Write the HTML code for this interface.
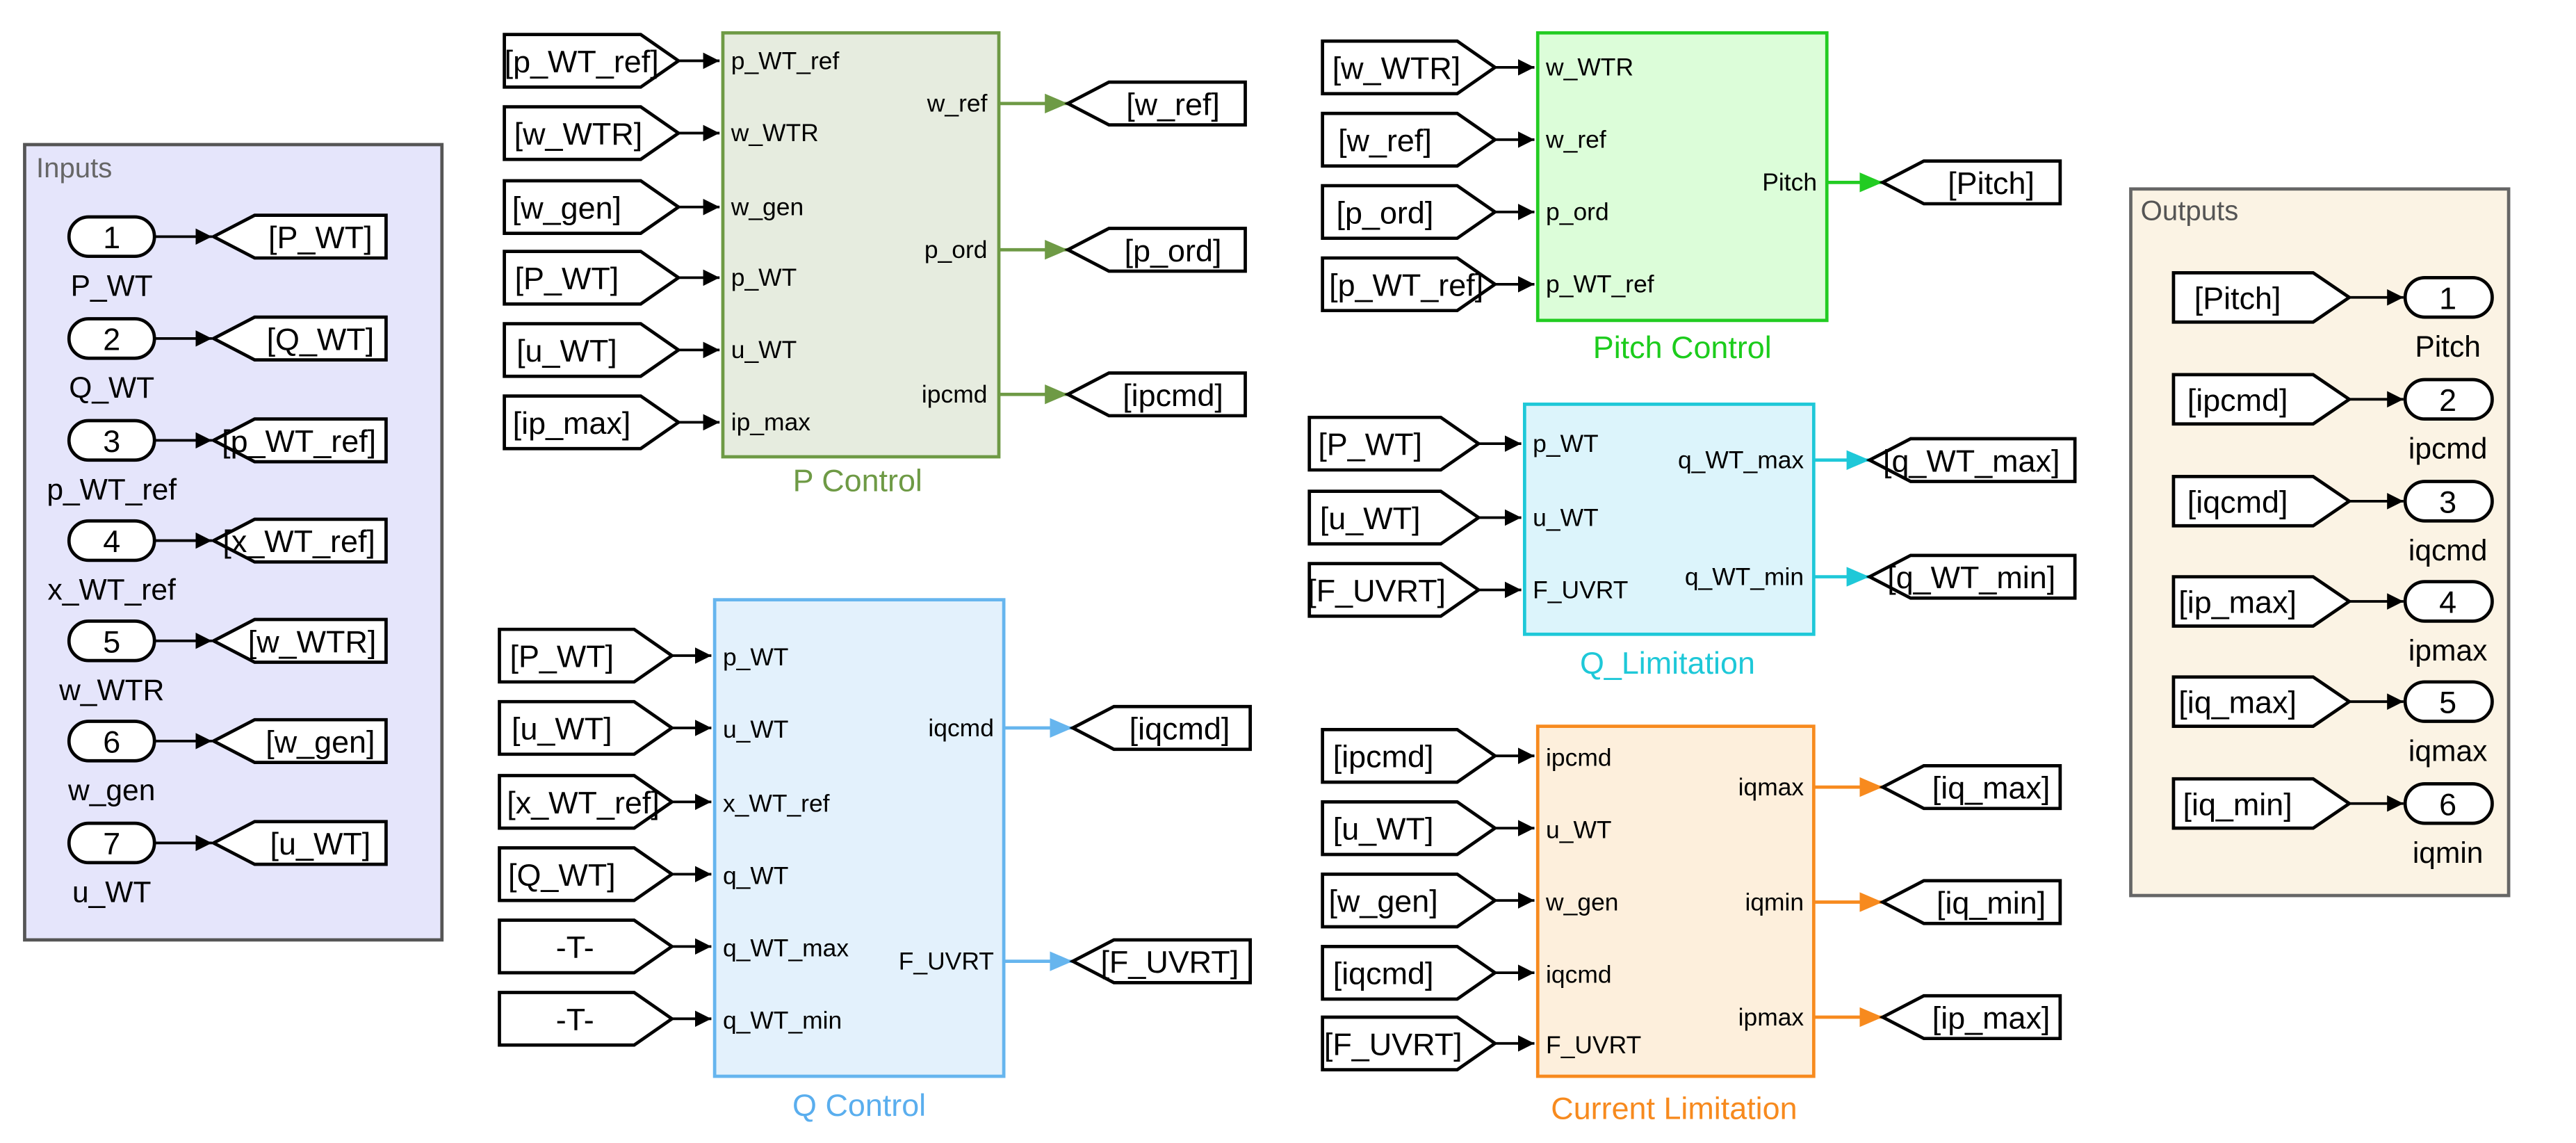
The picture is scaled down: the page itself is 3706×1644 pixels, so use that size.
<!DOCTYPE html>
<html><head><meta charset="utf-8"><style>
html,body{margin:0;padding:0;background:#fff}
svg{display:block}
text{font-family:"Liberation Sans",sans-serif}
.t{font-size:19px;fill:#000}
.p{font-size:15px;fill:#000}
.l{font-size:18px;fill:#000}
.tag{fill:#fff;stroke:#000;stroke-width:2}
.w{stroke:#000;stroke-width:1.6;fill:none}
</style></head><body>
<svg width="3706" height="1644" viewBox="0 0 1568 695.6" preserveAspectRatio="none" xmlns="http://www.w3.org/2000/svg">
<defs>
<marker id="ab" markerWidth="10" markerHeight="10" refX="10" refY="5" orient="auto" markerUnits="userSpaceOnUse"><path d="M0,0L10,5L0,10z" fill="#000"/></marker>
<marker id="ag" markerWidth="14" markerHeight="12" refX="14" refY="6" orient="auto" markerUnits="userSpaceOnUse"><path d="M0,0L14,6L0,12z" fill="#6e9a45"/></marker>
<marker id="al" markerWidth="14" markerHeight="12" refX="14" refY="6" orient="auto" markerUnits="userSpaceOnUse"><path d="M0,0L14,6L0,12z" fill="#22cc22"/></marker>
<marker id="ac" markerWidth="14" markerHeight="12" refX="14" refY="6" orient="auto" markerUnits="userSpaceOnUse"><path d="M0,0L14,6L0,12z" fill="#1ec8d8"/></marker>
<marker id="aq" markerWidth="14" markerHeight="12" refX="14" refY="6" orient="auto" markerUnits="userSpaceOnUse"><path d="M0,0L14,6L0,12z" fill="#66b5ee"/></marker>
<marker id="ao" markerWidth="14" markerHeight="12" refX="14" refY="6" orient="auto" markerUnits="userSpaceOnUse"><path d="M0,0L14,6L0,12z" fill="#f78a1e"/></marker>
</defs>

<!-- Inputs -->
<rect x="15" y="88" width="254" height="484" fill="#e5e5fb" stroke="#555" stroke-width="2"/>
<text x="22" y="108" style="font-size:17px;fill:#666">Inputs</text>
<g>
<rect x="42" y="132" width="52" height="24" rx="12" class="tag"/><text x="68" y="151" class="t" text-anchor="middle">1</text><line x1="94" y1="144" x2="129" y2="144" class="w" marker-end="url(#ab)"/><polygon points="130,144 155,131 235,131 235,157 155,157" class="tag"/><text x="195" y="151" class="t" text-anchor="middle">[P_WT]</text><text x="68" y="180" class="l" text-anchor="middle">P_WT</text>
<rect x="42" y="194" width="52" height="24" rx="12" class="tag"/><text x="68" y="213" class="t" text-anchor="middle">2</text><line x1="94" y1="206" x2="129" y2="206" class="w" marker-end="url(#ab)"/><polygon points="130,206 155,193 235,193 235,219 155,219" class="tag"/><text x="195" y="213" class="t" text-anchor="middle">[Q_WT]</text><text x="68" y="242" class="l" text-anchor="middle">Q_WT</text>
<rect x="42" y="256" width="52" height="24" rx="12" class="tag"/><text x="68" y="275" class="t" text-anchor="middle">3</text><line x1="94" y1="268" x2="129" y2="268" class="w" marker-end="url(#ab)"/><polygon points="130,268 155,255 235,255 235,281 155,281" class="tag"/><text x="182" y="275" class="t" text-anchor="middle">[p_WT_ref]</text><text x="68" y="304" class="l" text-anchor="middle">p_WT_ref</text>
<rect x="42" y="317" width="52" height="24" rx="12" class="tag"/><text x="68" y="336" class="t" text-anchor="middle">4</text><line x1="94" y1="329" x2="129" y2="329" class="w" marker-end="url(#ab)"/><polygon points="130,329 155,316 235,316 235,342 155,342" class="tag"/><text x="182" y="336" class="t" text-anchor="middle">[x_WT_ref]</text><text x="68" y="365" class="l" text-anchor="middle">x_WT_ref</text>
<rect x="42" y="378" width="52" height="24" rx="12" class="tag"/><text x="68" y="397" class="t" text-anchor="middle">5</text><line x1="94" y1="390" x2="129" y2="390" class="w" marker-end="url(#ab)"/><polygon points="130,390 155,377 235,377 235,403 155,403" class="tag"/><text x="190" y="397" class="t" text-anchor="middle">[w_WTR]</text><text x="68" y="426" class="l" text-anchor="middle">w_WTR</text>
<rect x="42" y="439" width="52" height="24" rx="12" class="tag"/><text x="68" y="458" class="t" text-anchor="middle">6</text><line x1="94" y1="451" x2="129" y2="451" class="w" marker-end="url(#ab)"/><polygon points="130,451 155,438 235,438 235,464 155,464" class="tag"/><text x="195" y="458" class="t" text-anchor="middle">[w_gen]</text><text x="68" y="487" class="l" text-anchor="middle">w_gen</text>
<rect x="42" y="501" width="52" height="24" rx="12" class="tag"/><text x="68" y="520" class="t" text-anchor="middle">7</text><line x1="94" y1="513" x2="129" y2="513" class="w" marker-end="url(#ab)"/><polygon points="130,513 155,500 235,500 235,526 155,526" class="tag"/><text x="195" y="520" class="t" text-anchor="middle">[u_WT]</text><text x="68" y="549" class="l" text-anchor="middle">u_WT</text>
</g>

<!-- P Control -->
<rect x="440" y="20" width="168" height="258" fill="#e6ecdf" stroke="#6e9a45" stroke-width="2"/>
<text x="522" y="299" text-anchor="middle" style="font-size:19px;fill:#6e9a45">P Control</text>
<g>
<polygon points="307,21 390,21 413,37 390,53 307,53" class="tag"/><text x="354" y="44" class="t" text-anchor="middle">[p_WT_ref]</text><line x1="413" y1="37" x2="438" y2="37" class="w" marker-end="url(#ab)"/><text x="445" y="42" class="p">p_WT_ref</text>
<polygon points="307,65 390,65 413,81 390,97 307,97" class="tag"/><text x="352" y="88" class="t" text-anchor="middle">[w_WTR]</text><line x1="413" y1="81" x2="438" y2="81" class="w" marker-end="url(#ab)"/><text x="445" y="86" class="p">w_WTR</text>
<polygon points="307,110 390,110 413,126 390,142 307,142" class="tag"/><text x="345" y="133" class="t" text-anchor="middle">[w_gen]</text><line x1="413" y1="126" x2="438" y2="126" class="w" marker-end="url(#ab)"/><text x="445" y="131" class="p">w_gen</text>
<polygon points="307,153 390,153 413,169 390,185 307,185" class="tag"/><text x="345" y="176" class="t" text-anchor="middle">[P_WT]</text><line x1="413" y1="169" x2="438" y2="169" class="w" marker-end="url(#ab)"/><text x="445" y="174" class="p">p_WT</text>
<polygon points="307,197 390,197 413,213 390,229 307,229" class="tag"/><text x="345" y="220" class="t" text-anchor="middle">[u_WT]</text><line x1="413" y1="213" x2="438" y2="213" class="w" marker-end="url(#ab)"/><text x="445" y="218" class="p">u_WT</text>
<polygon points="307,241 390,241 413,257 390,273 307,273" class="tag"/><text x="348" y="264" class="t" text-anchor="middle">[ip_max]</text><line x1="413" y1="257" x2="438" y2="257" class="w" marker-end="url(#ab)"/><text x="445" y="262" class="p">ip_max</text>
<text x="601" y="68" class="p" text-anchor="end">w_ref</text><line x1="608" y1="63" x2="650" y2="63" stroke="#6e9a45" stroke-width="2" marker-end="url(#ag)"/><polygon points="650,63 675,50 758,50 758,76 675,76" class="tag"/><text x="714" y="70" class="t" text-anchor="middle">[w_ref]</text>
<text x="601" y="157" class="p" text-anchor="end">p_ord</text><line x1="608" y1="152" x2="650" y2="152" stroke="#6e9a45" stroke-width="2" marker-end="url(#ag)"/><polygon points="650,152 675,139 758,139 758,165 675,165" class="tag"/><text x="714" y="159" class="t" text-anchor="middle">[p_ord]</text>
<text x="601" y="245" class="p" text-anchor="end">ipcmd</text><line x1="608" y1="240" x2="650" y2="240" stroke="#6e9a45" stroke-width="2" marker-end="url(#ag)"/><polygon points="650,240 675,227 758,227 758,253 675,253" class="tag"/><text x="714" y="247" class="t" text-anchor="middle">[ipcmd]</text>
</g>

<!-- Pitch Control -->
<rect x="936" y="20" width="176" height="175" fill="#dcfdd9" stroke="#22cc22" stroke-width="2"/>
<text x="1024" y="218" text-anchor="middle" style="font-size:19px;fill:#1ccc1c">Pitch Control</text>
<g>
<polygon points="805,25 887,25 910,41 887,57 805,57" class="tag"/><text x="850" y="48" class="t" text-anchor="middle">[w_WTR]</text><line x1="910" y1="41" x2="934" y2="41" class="w" marker-end="url(#ab)"/><text x="941" y="46" class="p">w_WTR</text>
<polygon points="805,69 887,69 910,85 887,101 805,101" class="tag"/><text x="843" y="92" class="t" text-anchor="middle">[w_ref]</text><line x1="910" y1="85" x2="934" y2="85" class="w" marker-end="url(#ab)"/><text x="941" y="90" class="p">w_ref</text>
<polygon points="805,113 887,113 910,129 887,145 805,145" class="tag"/><text x="843" y="136" class="t" text-anchor="middle">[p_ord]</text><line x1="910" y1="129" x2="934" y2="129" class="w" marker-end="url(#ab)"/><text x="941" y="134" class="p">p_ord</text>
<polygon points="805,157 887,157 910,173 887,189 805,189" class="tag"/><text x="856" y="180" class="t" text-anchor="middle">[p_WT_ref]</text><line x1="910" y1="173" x2="934" y2="173" class="w" marker-end="url(#ab)"/><text x="941" y="178" class="p">p_WT_ref</text>
<text x="1106" y="116" class="p" text-anchor="end">Pitch</text><line x1="1112" y1="111" x2="1146" y2="111" stroke="#22cc22" stroke-width="2" marker-end="url(#al)"/><polygon points="1146,111 1171,98 1254,98 1254,124 1171,124" class="tag"/><text x="1212" y="118" class="t" text-anchor="middle">[Pitch]</text>
</g>

<!-- Q_Limitation -->
<rect x="928" y="246" width="176" height="140" fill="#dcf4fb" stroke="#1ec8d8" stroke-width="2"/>
<text x="1015" y="410" text-anchor="middle" style="font-size:19px;fill:#1ec8d8">Q_Limitation</text>
<g>
<polygon points="797,254 877,254 900,270 877,286 797,286" class="tag"/><text x="834" y="277" class="t" text-anchor="middle">[P_WT]</text><line x1="900" y1="270" x2="926" y2="270" class="w" marker-end="url(#ab)"/><text x="933" y="275" class="p">p_WT</text>
<polygon points="797,299 877,299 900,315 877,331 797,331" class="tag"/><text x="834" y="322" class="t" text-anchor="middle">[u_WT]</text><line x1="900" y1="315" x2="926" y2="315" class="w" marker-end="url(#ab)"/><text x="933" y="320" class="p">u_WT</text>
<polygon points="797,343 877,343 900,359 877,375 797,375" class="tag"/><text x="838" y="366" class="t" text-anchor="middle">[F_UVRT]</text><line x1="900" y1="359" x2="926" y2="359" class="w" marker-end="url(#ab)"/><text x="933" y="364" class="p">F_UVRT</text>
<text x="1098" y="285" class="p" text-anchor="end">q_WT_max</text><line x1="1104" y1="280" x2="1138" y2="280" stroke="#1ec8d8" stroke-width="2" marker-end="url(#ac)"/><polygon points="1138,280 1163,267 1263,267 1263,293 1163,293" class="tag"/><text x="1200" y="287" class="t" text-anchor="middle">[q_WT_max]</text>
<text x="1098" y="356" class="p" text-anchor="end">q_WT_min</text><line x1="1104" y1="351" x2="1138" y2="351" stroke="#1ec8d8" stroke-width="2" marker-end="url(#ac)"/><polygon points="1138,351 1163,338 1263,338 1263,364 1163,364" class="tag"/><text x="1200" y="358" class="t" text-anchor="middle">[q_WT_min]</text>
</g>

<!-- Q Control -->
<rect x="435" y="365" width="176" height="290" fill="#e3f1fc" stroke="#66b5ee" stroke-width="2"/>
<text x="523" y="679" text-anchor="middle" style="font-size:19px;fill:#5aaeee">Q Control</text>
<g>
<polygon points="304,383 386,383 409,399 386,415 304,415" class="tag"/><text x="342" y="406" class="t" text-anchor="middle">[P_WT]</text><line x1="409" y1="399" x2="433" y2="399" class="w" marker-end="url(#ab)"/><text x="440" y="405" class="p">p_WT</text>
<polygon points="304,427 386,427 409,443 386,459 304,459" class="tag"/><text x="342" y="450" class="t" text-anchor="middle">[u_WT]</text><line x1="409" y1="443" x2="433" y2="443" class="w" marker-end="url(#ab)"/><text x="440" y="449" class="p">u_WT</text>
<polygon points="304,472 386,472 409,488 386,504 304,504" class="tag"/><text x="355" y="495" class="t" text-anchor="middle">[x_WT_ref]</text><line x1="409" y1="488" x2="433" y2="488" class="w" marker-end="url(#ab)"/><text x="440" y="494" class="p">x_WT_ref</text>
<polygon points="304,516 386,516 409,532 386,548 304,548" class="tag"/><text x="342" y="539" class="t" text-anchor="middle">[Q_WT]</text><line x1="409" y1="532" x2="433" y2="532" class="w" marker-end="url(#ab)"/><text x="440" y="538" class="p">q_WT</text>
<polygon points="304,560 386,560 409,576 386,592 304,592" class="tag"/><text x="350" y="583" class="t" text-anchor="middle">-T-</text><line x1="409" y1="576" x2="433" y2="576" class="w" marker-end="url(#ab)"/><text x="440" y="582" class="p">q_WT_max</text>
<polygon points="304,604 386,604 409,620 386,636 304,636" class="tag"/><text x="350" y="627" class="t" text-anchor="middle">-T-</text><line x1="409" y1="620" x2="433" y2="620" class="w" marker-end="url(#ab)"/><text x="440" y="626" class="p">q_WT_min</text>
<text x="605" y="448" class="p" text-anchor="end">iqcmd</text><line x1="611" y1="443" x2="653" y2="443" stroke="#66b5ee" stroke-width="2" marker-end="url(#aq)"/><polygon points="653,443 678,430 761,430 761,456 678,456" class="tag"/><text x="718" y="450" class="t" text-anchor="middle">[iqcmd]</text>
<text x="605" y="590" class="p" text-anchor="end">F_UVRT</text><line x1="611" y1="585" x2="653" y2="585" stroke="#66b5ee" stroke-width="2" marker-end="url(#aq)"/><polygon points="653,585 678,572 761,572 761,598 678,598" class="tag"/><text x="712" y="592" class="t" text-anchor="middle">[F_UVRT]</text>
</g>

<!-- Current Limitation -->
<rect x="936" y="442" width="168" height="213" fill="#fdefdc" stroke="#f78a1e" stroke-width="2"/>
<text x="1019" y="681" text-anchor="middle" style="font-size:19px;fill:#f78a1e">Current Limitation</text>
<g>
<polygon points="805,444 887,444 910,460 887,476 805,476" class="tag"/><text x="842" y="467" class="t" text-anchor="middle">[ipcmd]</text><line x1="910" y1="460" x2="934" y2="460" class="w" marker-end="url(#ab)"/><text x="941" y="466" class="p">ipcmd</text>
<polygon points="805,488 887,488 910,504 887,520 805,520" class="tag"/><text x="842" y="511" class="t" text-anchor="middle">[u_WT]</text><line x1="910" y1="504" x2="934" y2="504" class="w" marker-end="url(#ab)"/><text x="941" y="510" class="p">u_WT</text>
<polygon points="805,532 887,532 910,548 887,564 805,564" class="tag"/><text x="842" y="555" class="t" text-anchor="middle">[w_gen]</text><line x1="910" y1="548" x2="934" y2="548" class="w" marker-end="url(#ab)"/><text x="941" y="554" class="p">w_gen</text>
<polygon points="805,576 887,576 910,592 887,608 805,608" class="tag"/><text x="842" y="599" class="t" text-anchor="middle">[iqcmd]</text><line x1="910" y1="592" x2="934" y2="592" class="w" marker-end="url(#ab)"/><text x="941" y="598" class="p">iqcmd</text>
<polygon points="805,619 887,619 910,635 887,651 805,651" class="tag"/><text x="848" y="642" class="t" text-anchor="middle">[F_UVRT]</text><line x1="910" y1="635" x2="934" y2="635" class="w" marker-end="url(#ab)"/><text x="941" y="641" class="p">F_UVRT</text>
<text x="1098" y="484" class="p" text-anchor="end">iqmax</text><line x1="1104" y1="479" x2="1146" y2="479" stroke="#f78a1e" stroke-width="2" marker-end="url(#ao)"/><polygon points="1146,479 1171,466 1254,466 1254,492 1171,492" class="tag"/><text x="1212" y="486" class="t" text-anchor="middle">[iq_max]</text>
<text x="1098" y="554" class="p" text-anchor="end">iqmin</text><line x1="1104" y1="549" x2="1146" y2="549" stroke="#f78a1e" stroke-width="2" marker-end="url(#ao)"/><polygon points="1146,549 1171,536 1254,536 1254,562 1171,562" class="tag"/><text x="1212" y="556" class="t" text-anchor="middle">[iq_min]</text>
<text x="1098" y="624" class="p" text-anchor="end">ipmax</text><line x1="1104" y1="619" x2="1146" y2="619" stroke="#f78a1e" stroke-width="2" marker-end="url(#ao)"/><polygon points="1146,619 1171,606 1254,606 1254,632 1171,632" class="tag"/><text x="1212" y="626" class="t" text-anchor="middle">[ip_max]</text>
</g>

<!-- Outputs -->
<rect x="1297" y="115" width="230" height="430" fill="#fbf3e4" stroke="#666" stroke-width="2"/>
<text x="1303" y="134" style="font-size:17px;fill:#555">Outputs</text>
<g>
<polygon points="1323,166 1408,166 1430,181 1408,196 1323,196" class="tag"/><text x="1362" y="188" class="t" text-anchor="middle">[Pitch]</text><line x1="1430" y1="181" x2="1463" y2="181" class="w" marker-end="url(#ab)"/><rect x="1464" y="169" width="53" height="24" rx="12" class="tag"/><text x="1490" y="188" class="t" text-anchor="middle">1</text><text x="1490" y="217" class="l" text-anchor="middle">Pitch</text>
<polygon points="1323,228 1408,228 1430,243 1408,258 1323,258" class="tag"/><text x="1362" y="250" class="t" text-anchor="middle">[ipcmd]</text><line x1="1430" y1="243" x2="1463" y2="243" class="w" marker-end="url(#ab)"/><rect x="1464" y="231" width="53" height="24" rx="12" class="tag"/><text x="1490" y="250" class="t" text-anchor="middle">2</text><text x="1490" y="279" class="l" text-anchor="middle">ipcmd</text>
<polygon points="1323,290 1408,290 1430,305 1408,320 1323,320" class="tag"/><text x="1362" y="312" class="t" text-anchor="middle">[iqcmd]</text><line x1="1430" y1="305" x2="1463" y2="305" class="w" marker-end="url(#ab)"/><rect x="1464" y="293" width="53" height="24" rx="12" class="tag"/><text x="1490" y="312" class="t" text-anchor="middle">3</text><text x="1490" y="341" class="l" text-anchor="middle">iqcmd</text>
<polygon points="1323,351 1408,351 1430,366 1408,381 1323,381" class="tag"/><text x="1362" y="373" class="t" text-anchor="middle">[ip_max]</text><line x1="1430" y1="366" x2="1463" y2="366" class="w" marker-end="url(#ab)"/><rect x="1464" y="354" width="53" height="24" rx="12" class="tag"/><text x="1490" y="373" class="t" text-anchor="middle">4</text><text x="1490" y="402" class="l" text-anchor="middle">ipmax</text>
<polygon points="1323,412 1408,412 1430,427 1408,442 1323,442" class="tag"/><text x="1362" y="434" class="t" text-anchor="middle">[iq_max]</text><line x1="1430" y1="427" x2="1463" y2="427" class="w" marker-end="url(#ab)"/><rect x="1464" y="415" width="53" height="24" rx="12" class="tag"/><text x="1490" y="434" class="t" text-anchor="middle">5</text><text x="1490" y="463" class="l" text-anchor="middle">iqmax</text>
<polygon points="1323,474 1408,474 1430,489 1408,504 1323,504" class="tag"/><text x="1362" y="496" class="t" text-anchor="middle">[iq_min]</text><line x1="1430" y1="489" x2="1463" y2="489" class="w" marker-end="url(#ab)"/><rect x="1464" y="477" width="53" height="24" rx="12" class="tag"/><text x="1490" y="496" class="t" text-anchor="middle">6</text><text x="1490" y="525" class="l" text-anchor="middle">iqmin</text>
</g>
</svg>
</body></html>
